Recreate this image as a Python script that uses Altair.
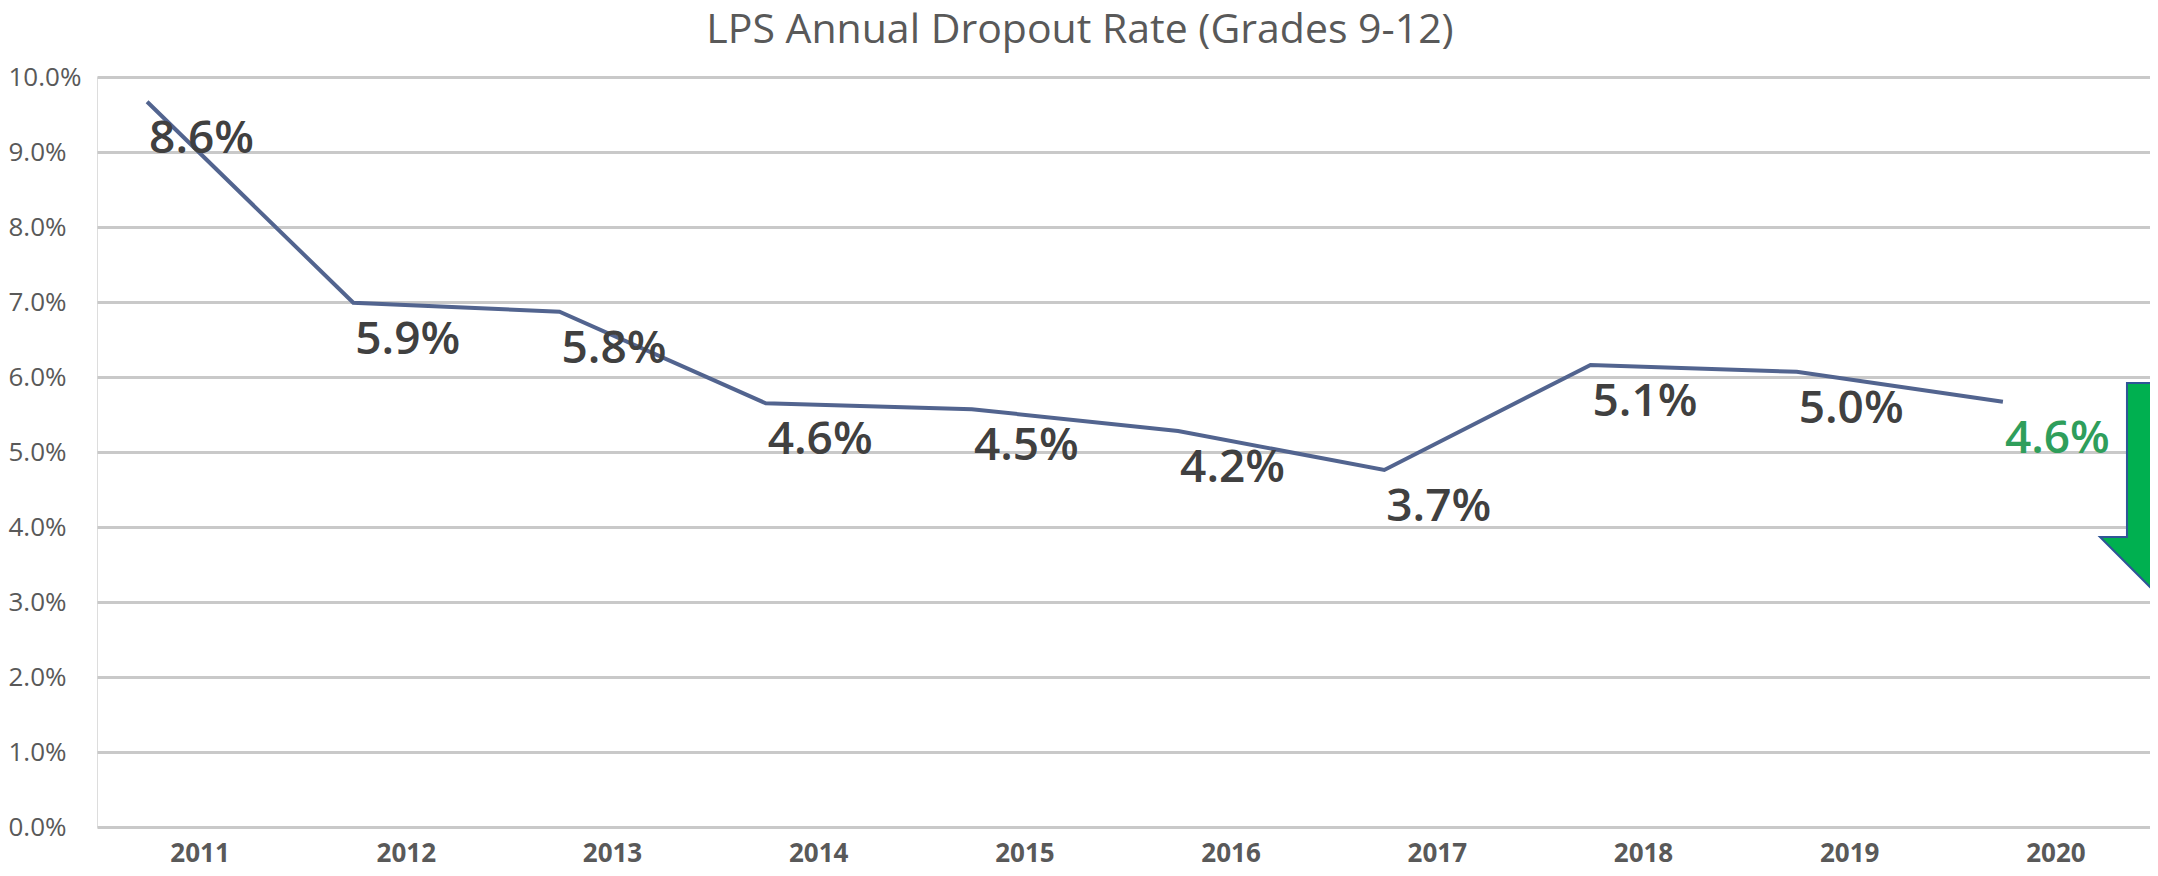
import altair as alt
import pandas as pd

# ---- data ----
years = ["2011", "2012", "2013", "2014", "2015", "2016", "2017", "2018", "2019", "2020"]
# vertical position of the drawn line (in % units, as plotted)
line_values = [9.67, 6.99, 6.87, 5.65, 5.57, 5.28, 4.76, 6.16, 6.07, 5.67]
# data label values printed under the line
label_values = [8.6, 5.9, 5.8, 4.6, 4.5, 4.2, 3.7, 5.1, 5.0, 4.6]
y_ticks = [0, 1, 2, 3, 4, 5, 6, 7, 8, 9, 10]
chart_title = "LPS Annual Dropout Rate (Grades 9-12)"

df = pd.DataFrame({"year": years, "line": line_values, "label": label_values})
df["label_text"] = [f"{v:.1f}%" for v in label_values]

FONT = "Open Sans"
GRAY = "#595959"
LINE_COLOR = "#52648f"
GREEN = "#2f9e5b"
ARROW_PATH = "M -0.243 -1 L 0.243 -1 L 0.243 0.495 L 0.505 0.495 L 0 1 L -0.505 0.495 L -0.243 0.495 Z"

BAND_POS = 0.243

x_enc = alt.X(
    "year:N",
    bandPosition=BAND_POS,
    sort=years,
    scale=alt.Scale(type="band", paddingInner=0, paddingOuter=0),
    axis=alt.Axis(
        title=None,
        labelAngle=0,
        labelFont=FONT,
        labelFontSize=26,
        labelFontWeight="bold",
        labelColor=GRAY,
        ticks=False,
        tickSize=0,
        domain=False,
        grid=False,
        labelPadding=13,
    ),
)

y_enc = alt.Y(
    "line:Q",
    scale=alt.Scale(domain=[0, 10], nice=False, zero=True),
    axis=alt.Axis(
        title=None,
        values=y_ticks,
        labelExpr="format(datum.value, '.1f') + '%'",
        labelFont=FONT,
        labelFontSize=26,
        labelColor=GRAY,
        labelAlign="left",
        labelBaseline="middle",
        labelPadding=89,
        ticks=False,
        tickSize=0,
        domain=False,
        grid=True,
        gridColor="#c9c9c9",
        gridWidth=3,
    ),
)

base = alt.Chart(df)

line = base.mark_line(color=LINE_COLOR, strokeWidth=4).encode(x=x_enc, y=y_enc)

labels = base.mark_text(
    font=FONT,
    fontSize=46,
    fontWeight=600,
    align="left",
    baseline="middle",
    dx=2,
    dy=37,
).encode(
    x=alt.X("year:N", bandPosition=BAND_POS, sort=years),
    y=alt.Y("line:Q"),
    text="label_text:N",
    color=alt.condition(alt.datum.year == "2020", alt.value(GREEN), alt.value("#404040")),
)

arrow = alt.Chart(pd.DataFrame({"a": [0]})).mark_point(
    shape=ARROW_PATH,
    size=42436,
    filled=True,
    fill="#00b050",
    stroke="#2f5597",
    strokeWidth=2,
    opacity=1,
).encode(x=alt.value(2055), y=alt.value(409))

chart = (
    alt.layer(line, labels, arrow)
    .properties(
        width=2062,
        height=750,
        title=alt.TitleParams(
            text=chart_title,
            font=FONT,
            fontSize=41,
            fontWeight="normal",
            color=GRAY,
            anchor="middle",
            frame="group",
            dx=-48,
            offset=12,
        ),
        autosize=alt.AutoSizeParams(type="none"),
        padding={"left": 89, "top": 69, "right": -9, "bottom": 41},
    )
    .configure_view(stroke=None)
    .configure(background="white")
)

chart.save("out.html", embed_options={"renderer": "svg", "actions": False})
